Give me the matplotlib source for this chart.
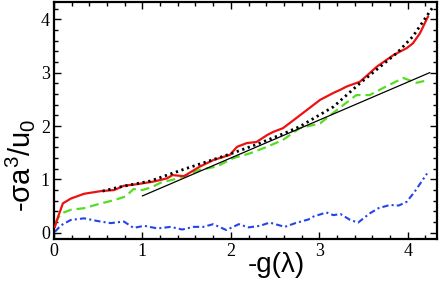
import numpy as np
import matplotlib
matplotlib.use("Agg")
import matplotlib.pyplot as plt
from matplotlib.ticker import MultipleLocator

plt.rcParams["mathtext.fontset"] = "custom"
plt.rcParams["mathtext.rm"] = "Liberation Sans"
plt.rcParams["mathtext.it"] = "Liberation Sans"

# ── data ────────────────────────────────────────────────────────────────────
red_x = [0.01, 0.05, 0.10, 0.19, 0.34, 0.53, 0.68, 0.79, 0.94, 1.13, 1.28, 1.34,
         1.47, 1.65, 1.80, 1.99, 2.07, 2.18, 2.29, 2.41, 2.48, 2.59, 2.71, 2.86,
         3.01, 3.16, 3.24, 3.31, 3.46, 3.57, 3.65, 3.84, 3.99, 4.06, 4.14, 4.23]
red_y = [0.11, 0.32, 0.55, 0.64, 0.73, 0.78, 0.80, 0.88, 0.91, 0.96, 1.02, 1.08,
         1.06, 1.24, 1.36, 1.46, 1.61, 1.68, 1.70, 1.83, 1.89, 1.96, 2.11, 2.30,
         2.49, 2.62, 2.68, 2.74, 2.83, 2.99, 3.11, 3.33, 3.46, 3.55, 3.74, 4.05]

dot_x = [0.55, 0.75, 1.09, 1.47, 1.80, 2.00, 2.30, 2.60, 2.78, 3.16, 3.46, 3.88,
         4.06, 4.29]
dot_y = [0.78, 0.86, 0.97, 1.19, 1.37, 1.48, 1.66, 1.86, 1.99, 2.36, 2.80, 3.37,
         3.68, 4.24]

green_x = [0.01, 0.08, 0.19, 0.34, 0.53, 0.68, 0.81, 0.90, 1.00, 1.10, 1.21,
           1.36, 1.47, 1.65, 1.84, 2.03, 2.22, 2.41, 2.59, 2.78, 3.01, 3.20,
           3.42, 3.57, 3.72, 3.95, 4.10, 4.23]
green_y = [0.18, 0.36, 0.43, 0.46, 0.55, 0.61, 0.68, 0.82, 0.80, 0.85, 0.94,
           1.00, 1.06, 1.18, 1.24, 1.40, 1.49, 1.61, 1.74, 1.96, 2.05, 2.30,
           2.58, 2.58, 2.71, 2.90, 2.81, 2.86]

blue_x = [0.01, 0.08, 0.19, 0.34, 0.49, 0.64, 0.79, 0.90, 1.02, 1.17, 1.32,
          1.45, 1.58, 1.69, 1.80, 1.95, 2.09, 2.20, 2.33, 2.44, 2.61, 2.73,
          2.88, 2.93, 3.08, 3.16, 3.24, 3.35, 3.44, 3.57, 3.67, 3.80, 3.90,
          3.99, 4.08, 4.22]
blue_y = [0.02, 0.14, 0.24, 0.27, 0.22, 0.18, 0.21, 0.09, 0.13, 0.08, 0.11,
          0.06, 0.11, 0.11, 0.16, 0.05, 0.16, 0.10, 0.13, 0.19, 0.11, 0.18,
          0.25, 0.30, 0.38, 0.33, 0.35, 0.24, 0.19, 0.36, 0.46, 0.52, 0.51,
          0.58, 0.77, 1.11]

fit_x = [1.0, 4.25]
fit_y = [0.69, 3.00]

xticks = [0, 1, 2, 3, 4]
yticks = [0, 1, 2, 3, 4]

# ── figure ──────────────────────────────────────────────────────────────────
fig = plt.figure(figsize=(4.43, 2.81), dpi=100)
ax = fig.add_axes([0.122, 0.149, 0.864, 0.845])

ax.plot(red_x, red_y, color="#ee1111", lw=1.6, zorder=3)
ax.plot(green_x, green_y, color="#55dd22", lw=1.6, ls=(0, (4, 2.2)), zorder=2)
ax.plot(dot_x, dot_y, color="black", lw=2.0, ls=(0, (0.8, 1.3)), zorder=4)
ax.plot(blue_x, blue_y, color="#2244ee", lw=1.5, ls=(0, (3, 1.5, 1, 1.5)), zorder=2)
ax.plot(fit_x, fit_y, color="black", lw=0.9, zorder=3)

ax.set_xlim(0, 4.33)
ax.set_ylim(-0.12, 4.33)
ax.set_xticks(xticks)
ax.set_yticks(yticks)
ax.xaxis.set_minor_locator(MultipleLocator(0.2))
ax.yaxis.set_minor_locator(MultipleLocator(0.2))
ax.tick_params(which="both", direction="in", top=True, right=True, width=1.0)
ax.tick_params(which="major", length=5, pad=3)
ax.tick_params(which="minor", length=3)
for lab in ax.get_xticklabels() + ax.get_yticklabels():
    lab.set_fontfamily("Liberation Serif")
    lab.set_fontsize(13)
for sp in ax.spines.values():
    sp.set_linewidth(1.6)

ax.set_xlabel("-g(λ)", fontsize=20, fontfamily="Liberation Sans")
ax.xaxis.set_label_coords(0.58, -0.055)
ax.xaxis.label.set_va("top")
ax.set_ylabel(r"-σa$^{3}$/u$_{0}$", fontsize=21, fontfamily="Liberation Sans")
ax.yaxis.set_label_coords(-0.045, 0.31)

fig.savefig("out.png", dpi=100)
